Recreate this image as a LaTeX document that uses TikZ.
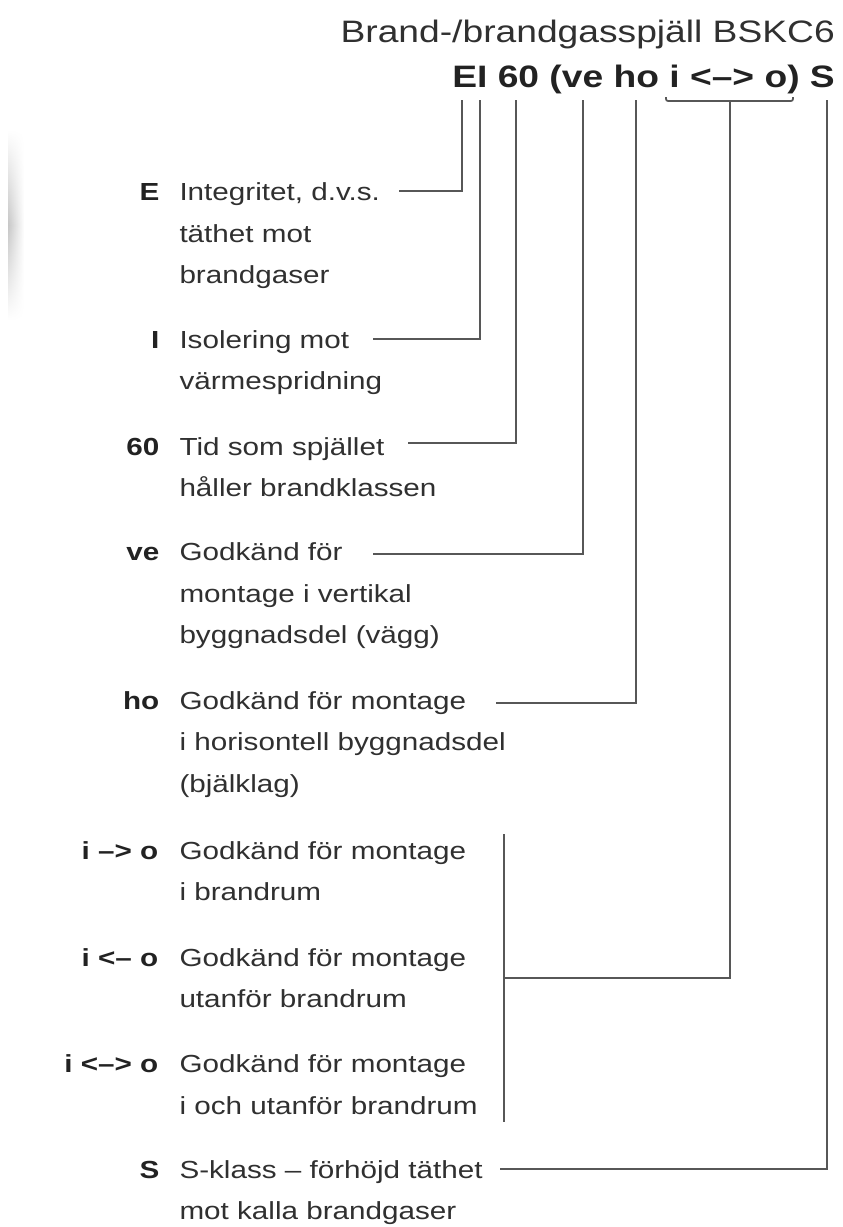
\documentclass[tikz,border=0pt]{standalone}
\usepackage{fontspec}
\usetikzlibrary{fadings}
\setmainfont{Liberation Sans}
\newfontfamily\bodyfont[FakeStretch=1.2]{Liberation Sans}
\definecolor{txt}{HTML}{303030}
\definecolor{lbltxt}{HTML}{222222}
\definecolor{linec}{HTML}{575757}
\newcommand\blk[1]{\vtop{\halign{##\hfil\cr#1\crcr}}}
\tikzfading[name=fadeyends, top color=transparent!100, bottom color=transparent!100, middle color=transparent!0]
\tikzset{
  body/.style={font=\bodyfont\fontsize{24.7}{41.5}\selectfont, text=txt, inner sep=0pt, anchor=base west},
  lbl/.style={font=\bodyfont\bfseries\fontsize{24.7}{41.5}\selectfont, text=lbltxt, inner sep=0pt, anchor=base east},
  head/.style={font=\bodyfont\fontsize{31}{36}\selectfont, text=txt, inner sep=0pt, anchor=base east},
  conn/.style={draw=linec, line width=1.7pt},
}
\begin{document}
\begin{tikzpicture}[x=1pt,y=-1pt]
\useasboundingbox (0,0) rectangle (843,1227);
% faint scan shadow at left edge
\shade[left color=black!22, right color=white, path fading=fadeyends] (8,130) rectangle (24,320);
% header
\node[head] (title) at (835,42) {Brand-/brandgasspjäll BSKC6};
\node[head, font=\bodyfont\bfseries\fontsize{31}{36}\selectfont, text=lbltxt] (code) at (835,87) {EI 60 (ve ho i <–> o) S};
% top ends of connectors
\coordinate (tE) at (462,100);
\coordinate (tI) at (480,100);
\coordinate (t60) at (516,100);
\coordinate (tve) at (583,100);
\coordinate (tho) at (636,100);
\coordinate (tio) at (730,101);
\coordinate (tS) at (827,100);
\coordinate (bl) at (666,97);
\coordinate (br) at (793,97);
% legend entries
\node[lbl] (lE) at (159.5,200.7) {E};
\node[body] (dE) at (179.3,200.7) {\blk{Integritet, d.v.s.\cr täthet mot\cr brandgaser}};
\node[lbl] (lI) at (159.5,348) {I};
\node[body] (dI) at (179.3,348) {\blk{Isolering mot\cr värmespridning}};
\node[lbl] (l60) at (159.5,455) {60};
\node[body] (d60) at (179.3,455) {\blk{Tid som spjället\cr håller brandklassen}};
\node[lbl] (lve) at (159.5,560.5) {ve};
\node[body] (dve) at (179.3,560.5) {\blk{Godkänd för\cr montage i vertikal\cr byggnadsdel (vägg)}};
\node[lbl] (lho) at (159.5,709) {ho};
\node[body] (dho) at (179.3,709) {\blk{Godkänd för montage\cr i horisontell byggnadsdel\cr (bjälklag)}};
\node[lbl] (lio1) at (158.5,859.3) {i –> o};
\node[body] (dio1) at (179.3,859.3) {\blk{Godkänd för montage\cr i brandrum}};
\node[lbl] (lio2) at (158.5,966) {i <– o};
\node[body] (dio2) at (179.3,966) {\blk{Godkänd för montage\cr utanför brandrum}};
\node[lbl] (lio3) at (158.5,1072.7) {i <–> o};
\node[body] (dio3) at (179.3,1072.7) {\blk{Godkänd för montage\cr i och utanför brandrum}};
\node[lbl] (lS) at (159.5,1178.3) {S};
\node[body] (dS) at (179.3,1178.3) {\blk{S-klass – förhöjd täthet\cr mot kalla brandgaser}};
% connector start points
\coordinate (cE) at (399,191);
\coordinate (cI) at (373,339);
\coordinate (c60) at (408,443);
\coordinate (cve) at (373,554);
\coordinate (cho) at (496,703);
\coordinate (gtop) at (504,834);
\coordinate (gbot) at (504,1122);
\coordinate (gmid) at (504,978);
\coordinate (cS) at (500,1169);
% connectors
\draw[conn] (cE) -| (tE);
\draw[conn] (cI) -| (tI);
\draw[conn] (c60) -| (t60);
\draw[conn] (cve) -| (tve);
\draw[conn] (cho) -| (tho);
\draw[conn] (gtop) -- (gbot);
\draw[conn] (gmid) -| (tio);
\draw[conn, rounded corners=2pt] (bl) |- (tio) -| (br);
\draw[conn] (cS) -| (tS);
\end{tikzpicture}
\end{document}
